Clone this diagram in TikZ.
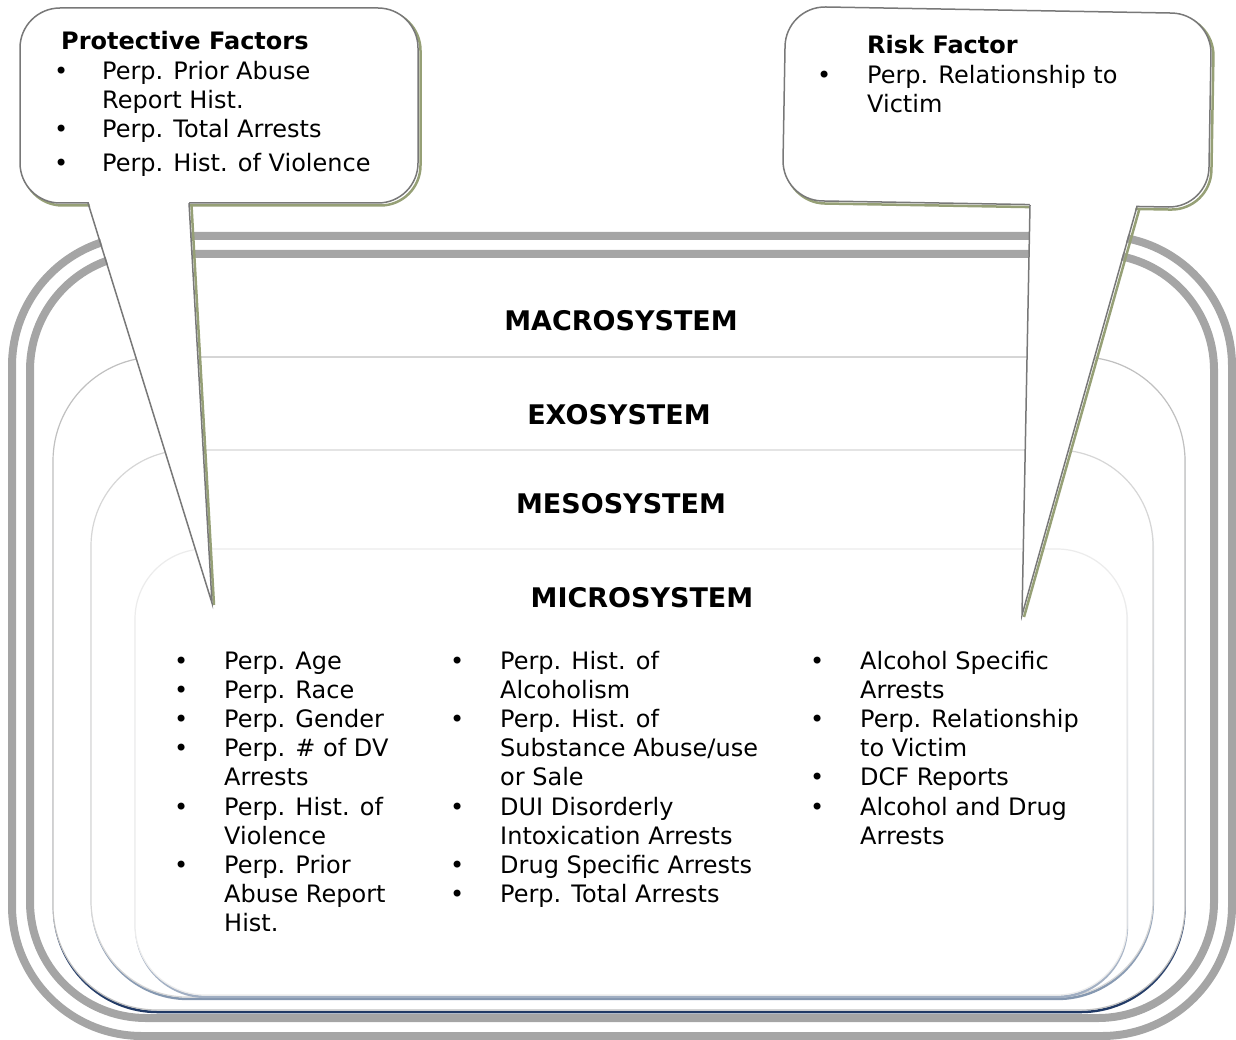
\documentclass[tikz,border=0pt]{standalone}
\usepackage{fontspec}
\setmainfont{DejaVu Sans}
\usepackage{xcolor}
\usepackage{tikz}
\usetikzlibrary{positioning, fadings}

\definecolor{framegray}{RGB}{165,165,165}
\definecolor{calloutline}{RGB}{120,120,120}
\definecolor{calloutshade}{RGB}{150,160,118}
\definecolor{exoline}{RGB}{192,192,192}
\definecolor{mesoline}{RGB}{214,214,214}
\definecolor{microline}{RGB}{236,236,236}
\definecolor{exoshade}{RGB}{31,56,100}
\definecolor{mesoshade}{RGB}{132,151,176}
\definecolor{microshade}{RGB}{160,174,194}

\tikzfading[name=fade up, top color=transparent!100, middle color=transparent!20, bottom color=transparent!0]

\newcommand{\bul}{\textbullet}
\newcommand{\itemcol}[2]{\begin{tabular}[t]{@{}p{#1}@{}l@{}}#2\end{tabular}}

\begin{document}
\begin{tikzpicture}[
    x=1pt, y=-1pt,
    frame/.style={draw=framegray, line width=8pt},
    system/.style={fill=white, line width=1.2pt},
    sysshade/.style={line width=2.5pt, path fading=fade up, shift={(1.8,1.8)}},
    callout/.style={draw=calloutline, fill=white, line width=1.5pt},
    calloutshadow/.style={draw=calloutshade, line width=2.5pt},
    level/.style={font=\fontsize{27}{30}\selectfont\bfseries, inner sep=0pt},
    itemlist/.style={anchor=base west, inner sep=0pt, font=\fontsize{24}{29.2}\selectfont}
]
\useasboundingbox (0,0) rectangle (1236,1040);

%  Outer frames 
\draw[frame, rounded corners=130pt] (12,236) rectangle (1232,1036);
\draw[frame, rounded corners=116pt] (30,254) rectangle (1214,1018);

%  Nested systems 
\draw[sysshade, exoshade, rounded corners=104pt] (53,357) rectangle (1185,1010);
\draw[system, draw=exoline, rounded corners=104pt] (53,357) rectangle (1185,1010);
\draw[sysshade, mesoshade, rounded corners=96pt] (91,450) rectangle (1153,997);
\draw[system, draw=mesoline, rounded corners=96pt] (91,450) rectangle (1153,997);
\draw[sysshade, microshade, rounded corners=70pt] (135,549) rectangle (1127,995);
\draw[system, draw=microline, rounded corners=70pt] (135,549) rectangle (1127,995);

%  Level titles 
\node[level] (macro) at (621,321) {MACROSYSTEM};
\node[level] (exo) at (619,415) {EXOSYSTEM};
\node[level] (meso) at (621,504) {MESOSYSTEM};
\node[level] (micro) at (642,598) {MICROSYSTEM};

%  Microsystem variables 
\node[itemlist] (microA) at (174,669) {\itemcol{50pt}{%
\bul & Perp. Age\\
\bul & Perp. Race\\
\bul & Perp. Gender\\
\bul & Perp. \# of DV\\
     & Arrests\\
\bul & Perp. Hist. of\\
     & Violence\\
\bul & Perp. Prior\\
     & Abuse Report\\
     & Hist.}};
\node[itemlist] (microB) at (450,669) {\itemcol{50pt}{%
\bul & Perp. Hist. of\\
     & Alcoholism\\
\bul & Perp. Hist. of\\
     & Substance Abuse/use\\
     & or Sale\\
\bul & DUI Disorderly\\
     & Intoxication Arrests\\
\bul & Drug Specific Arrests\\
\bul & Perp. Total Arrests}};
\node[itemlist] (microC) at (810,669) {\itemcol{50pt}{%
\bul & Alcohol Specific\\
     & Arrests\\
\bul & Perp. Relationship\\
     & to Victim\\
\bul & DCF Reports\\
\bul & Alcohol and Drug\\
     & Arrests}};

%  Protective factors callout 
\coordinate (ptip) at (212,603);
\coordinate (pleft) at (88,203);
\coordinate (pright) at (189,203);
\draw[calloutshadow, rounded corners=40pt] (22.5,10.5) rectangle (420.5,205.5);
\draw[calloutshadow] (191.5,205.5) -- (214,605);
\draw[callout, rounded corners=40pt] (20,8) rectangle (418,203);
\fill[white] (88,199) -- (189,199) -- (ptip) -- cycle;
\draw[calloutline, line width=1.5pt] (pleft) -- (ptip) -- (pright);
\node[itemlist] (protect) at (54,50) {\itemcol{48pt}{%
\multicolumn{2}{@{}l@{}}{\hspace{7pt}\bfseries Protective Factors}\\
\bul & Perp. Prior Abuse\\
     & Report Hist.\\
\bul & Perp. Total Arrests\\[4.8pt]
\bul & Perp. Hist. of Violence}};

%  Risk factor callout 
\coordinate (rtip) at (1022,615);
\coordinate (rleft) at (1030,205);
\coordinate (rright) at (1137,206.5);
\begin{scope}[rotate around={-1:(997,107)}]
\draw[calloutshadow, rounded corners=40pt] (786.5,12.5) rectangle (1212.5,206.5);
\end{scope}
\draw[calloutshadow] (1139.5,208.5) -- (1024,617);
\begin{scope}[rotate around={-1:(997,107)}]
\draw[callout, rounded corners=40pt] (784,10) rectangle (1210,204);
\end{scope}
\fill[white] (1030,201) -- (1137,202.5) -- (rtip) -- cycle;
\draw[calloutline, line width=1.5pt] (rleft) -- (rtip) -- (rright);
\node[itemlist] (risk) at (817,54) {\itemcol{50pt}{%
     & \bfseries Risk Factor\\
\bul & Perp. Relationship to\\
     & Victim}};

\end{tikzpicture}
\end{document}
